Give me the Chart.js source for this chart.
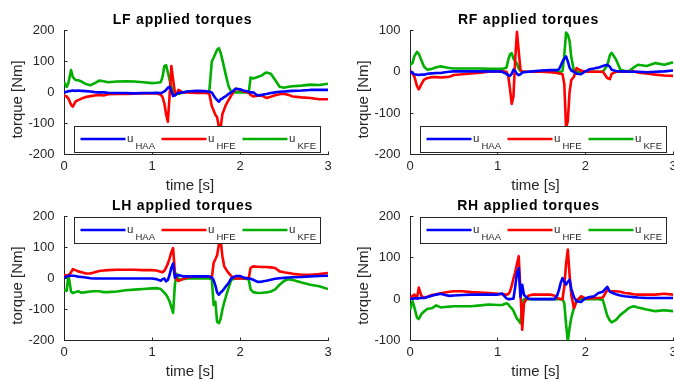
<!DOCTYPE html>
<html>
<head>
<meta charset="utf-8">
<title>applied torques</title>
<script src="https://cdn.jsdelivr.net/npm/chart.js@4.4.1/dist/chart.umd.min.js"></script>
<style>
  html, body { margin: 0; padding: 0; background: #fff; overflow: hidden; }
  #wrap { position: relative; width: 674px; height: 382px; }
  #wrap canvas { position: absolute; left: 0; top: 0; }
</style>
</head>
<body>
<div id="wrap">
  <canvas id="lf" width="674" height="382"></canvas>
  <canvas id="rf" width="674" height="382"></canvas>
  <canvas id="lh" width="674" height="382"></canvas>
  <canvas id="rh" width="674" height="382"></canvas>
</div>
<script>
'use strict';

/*--- data (time in s, torque in Nm) ---*/
var time = [0, 0.03, 0.05, 0.08, 0.1, 0.13, 0.16, 0.2, 0.25, 0.3,
  0.35, 0.4, 0.45, 0.5, 0.6, 0.7, 0.8, 0.9, 1.0, 1.05,
  1.1, 1.12, 1.14, 1.16, 1.18, 1.2, 1.22, 1.24, 1.26, 1.28,
  1.3, 1.35, 1.4, 1.5, 1.6, 1.65, 1.68, 1.7, 1.72, 1.74,
  1.76, 1.78, 1.8, 1.82, 1.84, 1.87, 1.9, 1.95, 2.0, 2.05,
  2.1, 2.12, 2.15, 2.2, 2.25, 2.28, 2.3, 2.35, 2.4, 2.45,
  2.5, 2.55, 2.6, 2.7, 2.8, 2.9, 3.0];

var lfHAA = [0, 2, 4, 5, 6, 5, 6, 5, 4, 3,
  1, 0, 0, -1, -2, -2, -3, -2, -2, -1,
  -2, 0, 3, 8, 15, 18, 5, -12, -10, -5,
  -2, 0, 3, 5, 4, 2, 0, -10, -18, -25,
  -30, -22, -20, -15, -12, -5, 0, 12, 10, 5,
  2, 0, 0, -10, -8, -6, -5, -2, 0, 2,
  3, 4, 5, 6, 8, 8, 8];
var lfHFE = [-10, -13, -20, -40, -46, -30, -25, -20, -15, -12,
  -10, -8, -10, -6, -5, -5, -4, -3, -3, -3,
  -8, -15, -35, -70, -95, -10, 85, 40, 0, -5,
  8, 0, 0, -2, -2, -3, -45, -58, -72, -80,
  -112, -115, -70, -55, -40, -25, -10, 12, 9, 2,
  0, -8, -13, -11, -10, -15, -18, -14, -9, -6,
  -4, -8, -13, -16, -18, -22, -22];
var lfKFE = [33, 18, 30, 72, 50, 40, 39, 35, 27, 23,
  30, 38, 36, 33, 35, 36, 35, 33, 30, 31,
  33, 50, 85, 88, 65, 40, 20, -5, -8, -3,
  -5, 0, 2, 2, 1, 0, 100, 112, 125, 138,
  143, 128, 105, 80, 55, 20, 2, 0, 0, 0,
  0, 48, 45, 50, 55, 62, 64, 60, 40, 18,
  15, 18, 20, 22, 25, 24, 28];

var rfHAA = [1, -3, -6, -7, -8, -7, -7, -5, -4, -3,
  -3, -1, 0, 1, 1, 1, 1, 1, 1, 0,
  -5, -8, -10, -5, 5, 2, -5, -8, -6, -2,
  -1, 0, 1, 3, 4, 4, 4, 6, 15, 25,
  32, 37, 25, 10, 3, 0, -5, -6, 1, 6,
  8, 9, 10, 14, 17, 12, 5, 2, 1, 1,
  0, 0, 0, -1, 0, 1, 3];
var rfHFE = [3, -5, -12, -35, -43, -30, -19, -15, -13, -13,
  -14, -13, -12, -8, -6, -4, -2, 0, 1, 1,
  0, -10, -40, -78, -60, 30, 97, 50, 5, 0,
  0, 0, 0, 0, -1, -2, -3, -4, -5, -6,
  -30, -135, -120, -50, -20, -12, 9, 3, 0, 0,
  0, 0, 0, 0, -15, -18, -5, 0, 0, 0,
  0, 1, -2, -4, -7, -9, -10];
var rfKFE = [16, 22, 38, 48, 44, 28, 12, 5, 7, 11,
  13, 11, 9, 8, 8, 8, 8, 7, 7, 7,
  10, 28, 42, 45, 32, 25, 20, 8, 2, 0,
  0, 0, 0, 0, 0, 0, 0, 0, 0, 2,
  40, 95, 90, 75, 35, 2, 0, 0, 0, 0,
  0, 0, 0, 0, 15, 40, 46, 30, 5, 2,
  2, 10, 17, 14, 21, 17, 23];

var lhHAA = [2, 6, 9, 9, 9, 8, 6, 5, 3, 1,
  0, 0, 0, 0, 0, 0, 0, 0, 0, -2,
  -7, -2, 0, -9, -5, 12, 35, 48, 2, 10,
  11, 7, 7, 7, 7, 7, 3, -5, -22, -45,
  -52, -45, -40, -33, -25, -15, 0, 8, 8, 2,
  0, -1, -4, -11, -10, -8, -7, -4, -1, 1,
  2, 3, 4, 5, 7, 8, 9];
var lhHFE = [12, 10, 7, 20, 30, 27, 23, 20, 16, 16,
  20, 24, 26, 27, 28, 28, 28, 27, 27, 26,
  22, 20, 25, 35, 48, 65, 85, 98, 20, -4,
  -8, -2, 3, 7, 7, 6, 2, 50, 62, 75,
  110, 125, 72, 40, 30, 18, 8, 0, 0, 0,
  2, 34, 39, 38, 37, 37, 37, 36, 34, 23,
  20, 18, 15, 12, 12, 14, 18];
var lhKFE = [-36, -40, 12, -42, -47, -44, -41, -46, -44, -42,
  -41, -41, -44, -44, -42, -38, -36, -34, -32, -31,
  -34, -40, -46, -52, -62, -74, -92, -111, -20, 15,
  -4, -2, 0, 0, 0, 0, -2, -85, -75, -140,
  -144, -130, -100, -78, -58, -30, -4, 0, 0, 0,
  -3, -35, -44, -47, -46, -45, -45, -42, -35, -20,
  -8, -2, -5, -13, -20, -25, -34];

var rhHAA = [1, 1, 2, 2, 2, 3, 3, 5, 8, 11,
  13, 10, 8, 9, 10, 11, 11, 11, 11, 14,
  2, 0, 0, 1, 1, 30, 63, 75, 5, 35,
  10, 1, 0, 0, 0, 0, 10, 23, 40, 51,
  42, 35, 42, 47, 25, 5, -5, -7, 2, 5,
  7, 10, 15, 18, 30, 18, 16, 12, 9, 7,
  6, 5, 4, 3, 3, 3, 3];
var rhHFE = [3, 8, 11, 2, 28, 8, 3, 6, 10, 12,
  14, 16, 18, 19, 19, 17, 16, 15, 13, 12,
  11, 12, 18, 32, 50, 65, 85, 104, 20, -74,
  -10, 8, 11, 11, 11, 8, 3, 1, 0, 0,
  30, 85, 120, 60, 10, -22, -5, 7, 2, 2,
  3, 3, 3, 4, 22, 20, 19, 19, 18, 15,
  14, 12, 11, 11, 11, 13, 11];
var rhKFE = [-25, -5, -20, -45, -48, -36, -30, -23, -22, -15,
  -20, -19, -18, -17, -17, -17, -15, -13, -14, -14,
  -10, -12, -18, -22, -28, -38, -47, -52, -58, -10,
  0, 0, 0, 0, 0, 0, 0, 0, 0, 0,
  -10, -60, -102, -70, -45, -21, -2, 0, 0, 0,
  0, 0, 0, -2, -40, -52, -56, -50, -38, -30,
  -21, -17, -20, -25, -29, -27, -29];

var jointNames = ['HAA', 'HFE', 'KFE'];
var xRange = [0, 3];
var xStep = 1;
var yStep = 100;

/*--- look ---*/
var ink = '#262626';
var colors = ['rgb(0,0,255)', 'rgb(255,0,0)', 'rgb(0,175,0)'];
var fontName = '"Liberation Sans", Arial, Helvetica, sans-serif';
var axisW = 64, axisH = 34.5;
var lineW = 2.6;

Chart.defaults.font.family = fontName;
Chart.defaults.color = ink;

/*--- octave-ish decorations: inward ticks, legend with subscripts, labels ---*/
var decor = {
  id: 'decor',
  beforeDatasetsDraw: function (chart) {
    var ctx = chart.ctx, a = chart.chartArea;
    var xs = chart.scales.x, ys = chart.scales.y;
    var bot = Math.round(a.bottom - 0.5) + 0.5, lft = Math.round(a.left - 0.5) + 0.5;
    ctx.save();
    ctx.strokeStyle = ink;
    ctx.lineWidth = 1;
    ctx.beginPath();
    xs.ticks.forEach(function (t) {
      var px = Math.round(xs.getPixelForValue(t.value) - 0.5) + 0.5;
      ctx.moveTo(px, bot); ctx.lineTo(px, bot - 3);
    });
    ys.ticks.forEach(function (t) {
      var py = Math.round(ys.getPixelForValue(t.value) - 0.5) + 0.5;
      ctx.moveTo(lft, py); ctx.lineTo(lft + 3, py);
    });
    ctx.stroke();
    ctx.restore();
  },
  afterDatasetsDraw: function (chart, args, opts) {
    var ctx = chart.ctx, a = chart.chartArea;
    var bx = Math.round(a.left + 10) + 0.5, bw = 246, bh = 26;
    var by = opts.legendSide === 'south' ? Math.round(a.bottom - 28) + 0.5 : Math.round(a.top + 0.5) + 0.5;
    ctx.save();
    ctx.fillStyle = '#fff';
    ctx.fillRect(bx, by, bw, bh);
    ctx.strokeStyle = ink;
    ctx.lineWidth = 1;
    ctx.strokeRect(bx, by, bw, bh);
    chart.data.datasets.forEach(function (ds, k) {
      var x0 = bx + 6 + k * 81;
      ctx.strokeStyle = ds.borderColor;
      ctx.lineWidth = lineW;
      ctx.beginPath();
      ctx.moveTo(x0, by + 12.5);
      ctx.lineTo(x0 + 45, by + 12.5);
      ctx.stroke();
      ctx.fillStyle = ink;
      ctx.textAlign = 'left';
      ctx.textBaseline = 'alphabetic';
      ctx.font = '11.5px ' + fontName;
      ctx.fillText('u', x0 + 46.5, by + 15);
      ctx.font = '9.5px ' + fontName;
      ctx.fillText(jointNames[k], x0 + 55, by + 22);
    });
    ctx.restore();
  },
  afterDraw: function (chart, args, opts) {
    var ctx = chart.ctx, a = chart.chartArea;
    ctx.save();
    ctx.fillStyle = '#000';
    ctx.font = 'bold 14px ' + fontName;
    ctx.letterSpacing = '0.8px';
    ctx.textAlign = 'center';
    ctx.textBaseline = 'alphabetic';
    ctx.fillText(opts.title, a.left + 118.5, a.top - 6.5);
    ctx.letterSpacing = '0px';
    ctx.fillStyle = ink;
    ctx.font = '15px ' + fontName;
    ctx.textBaseline = 'middle';
    ctx.fillText('time [s]', (a.left + a.right) / 2 - 6, a.bottom + 31.5);
    ctx.translate(a.left - 46.5, (a.top + a.bottom) / 2 + 7);
    ctx.rotate(-Math.PI / 2);
    ctx.fillText('torque [Nm]', 0, 0);
    ctx.restore();
  }
};

function makeChart(id, title, series, yMin, yMax, area, legendSide) {
  var datasets = series.map(function (vals, k) {
    return {
      label: 'u_' + jointNames[k],
      data: time.map(function (t, i) { return { x: t, y: vals[i] }; }),
      borderColor: colors[k],
      borderWidth: lineW,
      borderJoinStyle: 'round',
      pointRadius: 0,
      fill: false,
      tension: 0
    };
  });
  return new Chart(document.getElementById(id), {
    type: 'line',
    data: { datasets: datasets },
    options: {
      responsive: false,
      animation: false,
      events: [],
      layout: {
        padding: {
          left: area[0] - axisW,
          top: area[1],
          right: 674 - area[2],
          bottom: 382 - area[3] - axisH
        }
      },
      plugins: {
        legend: { display: false },
        tooltip: { enabled: false },
        decor: { title: title, legendSide: legendSide }
      },
      scales: {
        x: {
          type: 'linear',
          min: xRange[0],
          max: xRange[1],
          ticks: { stepSize: xStep, padding: 4, maxRotation: 0, color: ink, font: { size: 13 } },
          grid: { display: true, drawOnChartArea: false, drawTicks: false },
          border: { display: true, color: ink, width: 1 },
          afterFit: function (s) { s.height = axisH; s.paddingLeft = 0; s.paddingRight = 0; }
        },
        y: {
          min: yMin,
          max: yMax,
          ticks: { stepSize: yStep, padding: 9.5, color: ink, font: { size: 13 } },
          grid: { display: true, drawOnChartArea: false, drawTicks: false },
          border: { display: true, color: ink, width: 1 },
          afterFit: function (s) { s.width = axisW; s.paddingTop = 0; s.paddingBottom = 0; }
        }
      }
    },
    plugins: [decor]
  });
}

/*--- four legs: chart area given as [left, top, right, bottom] on the page ---*/
makeChart('lf', 'LF applied torques', [lfHAA, lfHFE, lfKFE], -200, 200, [64, 30.5, 328, 154.3], 'south');
makeChart('rf', 'RF applied torques', [rfHAA, rfHFE, rfKFE], -200, 100, [410, 30.5, 673, 154.3], 'south');
makeChart('lh', 'LH applied torques', [lhHAA, lhHFE, lhKFE], -200, 200, [64, 216.5, 328, 340.5], 'north');
makeChart('rh', 'RH applied torques', [rhHAA, rhHFE, rhKFE], -100, 200, [410, 216.5, 673, 340.5], 'north');
</script>
</body>
</html>
